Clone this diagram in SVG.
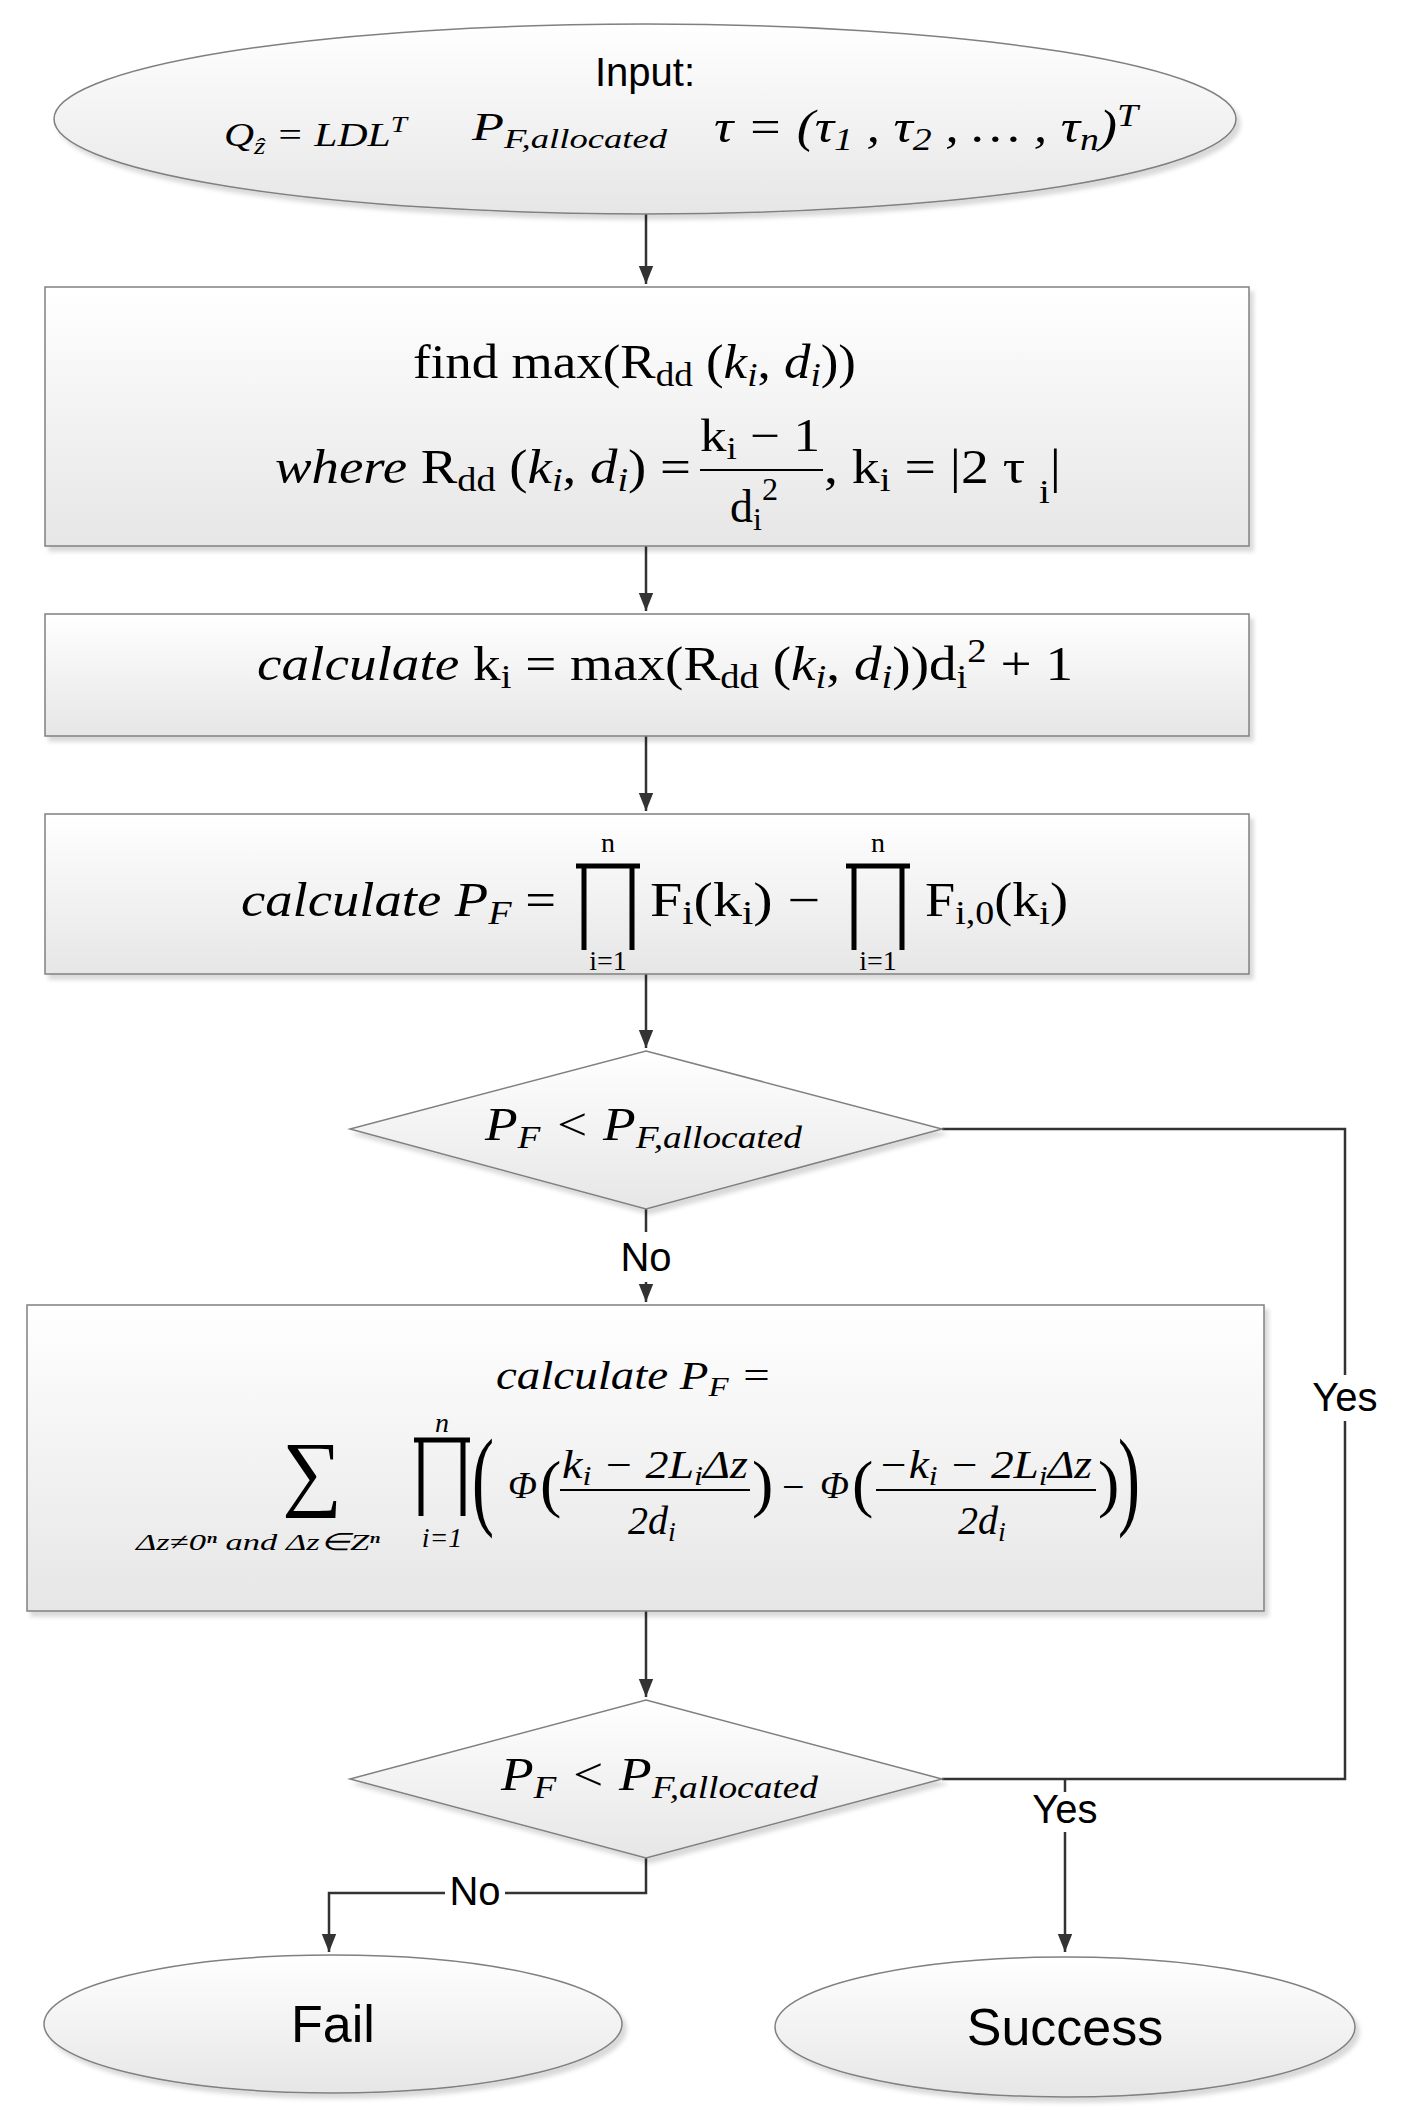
<svg xmlns="http://www.w3.org/2000/svg" width="1409" height="2122" viewBox="0 0 1409 2122">
<style>
.s{fill:url(#g);stroke:#808080;stroke-width:1.5;filter:url(#sh)}
.c{fill:none;stroke:#333;stroke-width:2.5}
.t{font-family:"Liberation Sans",sans-serif;fill:#000}
.m{font-family:"Liberation Serif",serif;fill:#000}
.i{font-style:italic}
.sub{font-size:70%}
.pr{stroke:#000;stroke-width:5;fill:none}
</style>
<defs>
<linearGradient id="g" x1="0" y1="0" x2="0" y2="1"><stop offset="0" stop-color="#ffffff"/><stop offset="1" stop-color="#e6e6e6"/></linearGradient>
<filter id="sh" x="-5%" y="-5%" width="110%" height="115%"><feDropShadow dx="4" dy="5" stdDeviation="2" flood-color="#000" flood-opacity="0.15"/></filter>
<marker id="a" viewBox="0 0 10 10" refX="10" refY="5" markerWidth="18" markerHeight="18" orient="auto" markerUnits="userSpaceOnUse"><path d="M0,1L10,5L0,9z" fill="#333"/></marker>
</defs>
<rect width="1409" height="2122" fill="#fff"/>
<g id="connectors">
<path class="c" d="M646,214V284" marker-end="url(#a)"/>
<path class="c" d="M646,546V611" marker-end="url(#a)"/>
<path class="c" d="M646,736V811" marker-end="url(#a)"/>
<path class="c" d="M646,974V1048" marker-end="url(#a)"/>
<path class="c" d="M646,1209V1232M646,1282V1302" marker-end="url(#a)"/>
<path class="c" d="M646,1611V1697" marker-end="url(#a)"/>
<path class="c" d="M942,1129H1345V1375M1345,1421V1779H942"/>
<path class="c" d="M1065,1779V1792M1065,1832V1952" marker-end="url(#a)"/>
<path class="c" d="M646,1858V1893H505M445,1893H329V1952" marker-end="url(#a)"/>
<text class="t" x="646" y="1271" font-size="40" text-anchor="middle">No</text>
<text class="t" x="1345" y="1411" font-size="40" text-anchor="middle">Yes</text>
<text class="t" x="1065" y="1823" font-size="40" text-anchor="middle">Yes</text>
<text class="t" x="475" y="1905" font-size="40" text-anchor="middle">No</text>
</g>
<g id="input">
<ellipse class="s" cx="645" cy="119" rx="591" ry="95"/>
<text class="t" x="645" y="86" font-size="40" text-anchor="middle">Input:</text>
<text class="m i" x="224" y="146" font-size="34" textLength="183" lengthAdjust="spacingAndGlyphs">Q<tspan class="sub" dy="8">ẑ</tspan><tspan dy="-8"> = LDL</tspan><tspan class="sub" dy="-14">T</tspan></text>
<text class="m i" x="472" y="140" font-size="40" textLength="195" lengthAdjust="spacingAndGlyphs">P<tspan class="sub" dy="8">F,allocated</tspan></text>
<text class="m i" x="714" y="142" font-size="46" textLength="424" lengthAdjust="spacingAndGlyphs">τ = (τ<tspan class="sub" dy="8">1</tspan><tspan dy="-8"> ,  τ</tspan><tspan class="sub" dy="8">2</tspan><tspan dy="-8"> , … , τ</tspan><tspan class="sub" dy="8">n</tspan><tspan dy="-8">)</tspan><tspan class="sub" dy="-16">T</tspan></text>
</g>
<g id="find">
<rect class="s" x="45" y="287" width="1204" height="259"/>
<text class="m" x="413" y="378" font-size="48" textLength="443" lengthAdjust="spacingAndGlyphs">find  max(R<tspan class="sub" dy="8">dd</tspan><tspan dy="-8"> (</tspan><tspan class="i">k</tspan><tspan class="i sub" dy="8">i</tspan><tspan dy="-8">, </tspan><tspan class="i">d</tspan><tspan class="i sub" dy="8">i</tspan><tspan dy="-8">))</tspan></text>
<text class="m" x="275" y="483" font-size="48" textLength="416" lengthAdjust="spacingAndGlyphs"><tspan class="i">where</tspan> R<tspan class="sub" dy="8">dd</tspan><tspan dy="-8"> (</tspan><tspan class="i">k</tspan><tspan class="i sub" dy="8">i</tspan><tspan dy="-8">, </tspan><tspan class="i">d</tspan><tspan class="i sub" dy="8">i</tspan><tspan dy="-8">) =</tspan></text>
<text class="m" x="700" y="451" font-size="46" textLength="120" lengthAdjust="spacingAndGlyphs">k<tspan class="sub" dy="8">i</tspan><tspan dy="-8"> − 1</tspan></text>
<line x1="700" y1="470" x2="823" y2="470" stroke="#000" stroke-width="2"/>
<text class="m" x="730" y="522" font-size="46">d<tspan class="sub" dy="8">i</tspan><tspan class="sub" dy="-30">2</tspan></text>
<text class="m" x="824" y="483" font-size="48" textLength="237" lengthAdjust="spacingAndGlyphs">, k<tspan class="sub" dy="8">i</tspan><tspan dy="-8"> = |2 τ </tspan><tspan class="sub" dy="20">i</tspan><tspan dy="-20">|</tspan></text>
</g>
<g id="calc1">
<rect class="s" x="45" y="614" width="1204" height="122"/>
<text class="m" x="257" y="680" font-size="48" textLength="816" lengthAdjust="spacingAndGlyphs"><tspan class="i">calculate</tspan>  k<tspan class="sub" dy="8">i</tspan><tspan dy="-8"> = max(R</tspan><tspan class="sub" dy="8">dd</tspan><tspan dy="-8"> (</tspan><tspan class="i">k</tspan><tspan class="i sub" dy="8">i</tspan><tspan dy="-8">, </tspan><tspan class="i">d</tspan><tspan class="i sub" dy="8">i</tspan><tspan dy="-8">))d</tspan><tspan class="sub" dy="8">i</tspan><tspan class="sub" dy="-26">2</tspan><tspan dy="18"> + 1</tspan></text>
</g>
<g id="calc2">
<rect class="s" x="45" y="814" width="1204" height="160"/>
<text class="m" x="241" y="916" font-size="48" textLength="315" lengthAdjust="spacingAndGlyphs"><tspan class="i">calculate  P</tspan><tspan class="i sub" dy="8">F</tspan><tspan dy="-8"> =</tspan></text>
<text class="m" x="608" y="852" font-size="28" text-anchor="middle">n</text>
<text class="m" x="608" y="970" font-size="28" text-anchor="middle">i=1</text>
<path class="pr" d="M576,866H640M584,866V950M632,866V950"/>
<text class="m" x="650" y="916" font-size="48" textLength="170" lengthAdjust="spacingAndGlyphs">F<tspan class="sub" dy="8">i</tspan><tspan dy="-8">(k</tspan><tspan class="sub" dy="8">i</tspan><tspan dy="-8">)  −</tspan></text>
<text class="m" x="878" y="852" font-size="28" text-anchor="middle">n</text>
<text class="m" x="878" y="970" font-size="28" text-anchor="middle">i=1</text>
<path class="pr" d="M846,866H910M854,866V950M902,866V950"/>
<text class="m" x="925" y="916" font-size="48" textLength="143" lengthAdjust="spacingAndGlyphs">F<tspan class="sub" dy="8">i,0</tspan><tspan dy="-8">(k</tspan><tspan class="sub" dy="8">i</tspan><tspan dy="-8">)</tspan></text>
</g>
<g id="dec1">
<polygon class="s" points="646,1051 942,1129 646,1209 350,1129"/>
<text class="m i" x="485" y="1140" font-size="46" textLength="317" lengthAdjust="spacingAndGlyphs">P<tspan class="sub" dy="8">F</tspan><tspan dy="-8"> &lt;  P</tspan><tspan class="sub" dy="8">F,allocated</tspan></text>
</g>
<g id="calc3">
<rect class="s" x="27" y="1305" width="1237" height="306"/>
<text class="m i" x="496" y="1389" font-size="40" textLength="276" lengthAdjust="spacingAndGlyphs">calculate  P<tspan class="sub" dy="7">F</tspan><tspan dy="-7"> =</tspan></text>
<text class="m" x="312" y="1500" font-size="84" text-anchor="middle">∑</text>
<text class="m i" x="136" y="1550" font-size="24" textLength="244" lengthAdjust="spacingAndGlyphs">Δz≠0ⁿ and  Δz∈Zⁿ</text>
<text class="m i" x="442" y="1432" font-size="28" text-anchor="middle">n</text>
<path class="pr" d="M414,1440H470M421,1440V1516M463,1440V1516"/>
<text class="m i" x="442" y="1547" font-size="28" text-anchor="middle">i=1</text>
<text class="m" x="472" y="1515" font-size="110" transform="translate(472,0) scale(0.6,1) translate(-472,0)">(</text>
<text class="m i" x="508" y="1498" font-size="38">Φ</text>
<text class="m" x="540" y="1505" font-size="64">(</text>
<text class="m i" x="562" y="1478" font-size="40" textLength="186" lengthAdjust="spacingAndGlyphs">k<tspan class="sub" dy="7">i</tspan><tspan dy="-7"> − 2L</tspan><tspan class="sub" dy="7">i</tspan><tspan dy="-7">Δz</tspan></text>
<line x1="560" y1="1490" x2="750" y2="1490" stroke="#000" stroke-width="2"/>
<text class="m i" x="628" y="1534" font-size="40">2d<tspan class="sub" dy="7">i</tspan></text>
<text class="m" x="752" y="1505" font-size="64">)</text>
<text class="m" x="782" y="1500" font-size="40">−</text>
<text class="m i" x="820" y="1498" font-size="38">Φ</text>
<text class="m" x="852" y="1505" font-size="64">(</text>
<text class="m i" x="878" y="1478" font-size="40" textLength="214" lengthAdjust="spacingAndGlyphs">−k<tspan class="sub" dy="7">i</tspan><tspan dy="-7"> − 2L</tspan><tspan class="sub" dy="7">i</tspan><tspan dy="-7">Δz</tspan></text>
<line x1="876" y1="1490" x2="1096" y2="1490" stroke="#000" stroke-width="2"/>
<text class="m i" x="958" y="1534" font-size="40">2d<tspan class="sub" dy="7">i</tspan></text>
<text class="m" x="1098" y="1505" font-size="64">)</text>
<text class="m" x="1118" y="1515" font-size="110" transform="translate(1118,0) scale(0.6,1) translate(-1118,0)">)</text>
</g>
<g id="dec2">
<polygon class="s" points="646,1700 942,1779 646,1858 350,1779"/>
<text class="m i" x="501" y="1790" font-size="46" textLength="317" lengthAdjust="spacingAndGlyphs">P<tspan class="sub" dy="8">F</tspan><tspan dy="-8"> &lt;  P</tspan><tspan class="sub" dy="8">F,allocated</tspan></text>
</g>
<g id="fail">
<ellipse class="s" cx="333" cy="2024" rx="289" ry="69"/>
<text class="t" x="333" y="2042" font-size="52" text-anchor="middle">Fail</text>
</g>
<g id="success">
<ellipse class="s" cx="1065" cy="2027" rx="290" ry="70"/>
<text class="t" x="1065" y="2045" font-size="52" text-anchor="middle">Success</text>
</g>
</svg>
